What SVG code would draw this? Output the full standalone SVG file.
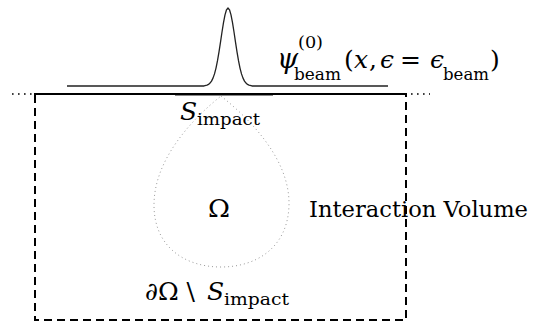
<svg xmlns="http://www.w3.org/2000/svg" width="534" height="323" viewBox="0 0 534 323">
<style>
text{font-family:'DejaVu Serif',serif;fill:#000}
.m{font-size:25px}
.s{font-size:16px}
.i{font-style:italic}
.dash{fill:none;stroke:#000;stroke-width:2;stroke-dasharray:8 5}
.dots{fill:none;stroke:#000;stroke-width:1.6;stroke-dasharray:1.6 4.4}
.drop{fill:none;stroke:#999;stroke-width:1;stroke-dasharray:1 3}
</style>
<rect width="534" height="323" fill="#fff"/>
<g id="connectors">
<path class="dots" d="M12 94H33"/>
<path class="dots" d="M411 94H430"/>
</g>
<g id="volume">
<path class="dash" d="M35 95V320H406V95"/>
<path d="M34 94H407" stroke="#000" stroke-width="2"/>
<path d="M175 95.5H273" stroke="#888" stroke-width="1"/>
</g>
<g id="beam">
<path d="M67 86H204L204 85.8 207 85.1 208.5 84.4 210 83.1 211.5 81.1 213 78.1 214.5 73.9 216 68.1 217.5 60.7 219 51.9 220.5 42.1 222 32 223.5 22.6 225 14.9 226.5 9.8 228 8 229.5 9.8 231 14.9 232.5 22.6 234 32 235.5 42.1 237 51.9 238.5 60.7 240 68.1 241.5 73.9 243 78.1 244.5 81.1 246 83.1 247.5 84.4 249 85.1 252 85.8 252 86H388" fill="none" stroke="#222" stroke-width="1.3" stroke-linejoin="round"/>
<text class="i" x="277" y="68" font-size="27">ψ</text>
<text class="s" x="298" y="48" textLength="25" lengthAdjust="spacingAndGlyphs">(0)</text>
<text class="s" x="294" y="80" textLength="47" lengthAdjust="spacingAndGlyphs">beam</text>
<text class="m" x="344" y="68">(</text>
<text class="m i" x="354" y="68">x</text>
<text class="m" x="369" y="68">,</text>
<text class="m i" x="380" y="68">ϵ</text>
<text class="m" x="400" y="68">=</text>
<text class="m i" x="430" y="68">ϵ</text>
<text class="s" x="443" y="80" textLength="46" lengthAdjust="spacingAndGlyphs">beam</text>
<text class="m" x="490" y="68">)</text>
</g>
<g id="omega">
<path class="drop" d="M221 96C251 120 290 160 289 205C288 247 257 267 221 267C185 267 154 247 154 205C154 160 191 120 221 96Z"/>
<text class="m" x="208" y="217" textLength="22" lengthAdjust="spacingAndGlyphs">Ω</text>
</g>
<g id="impact">
<text class="m i" x="180" y="120">S</text>
<text class="s" x="197" y="125" textLength="63" lengthAdjust="spacingAndGlyphs">impact</text>
</g>
<g id="boundary">
<text class="m" x="145" y="300">∂Ω \</text>
<text class="m i" x="207" y="300">S</text>
<text class="s" x="224" y="305" textLength="65" lengthAdjust="spacingAndGlyphs">impact</text>
</g>
<g id="label">
<text x="309" y="217" font-size="23" textLength="219" lengthAdjust="spacingAndGlyphs">Interaction Volume</text>
</g>
</svg>
